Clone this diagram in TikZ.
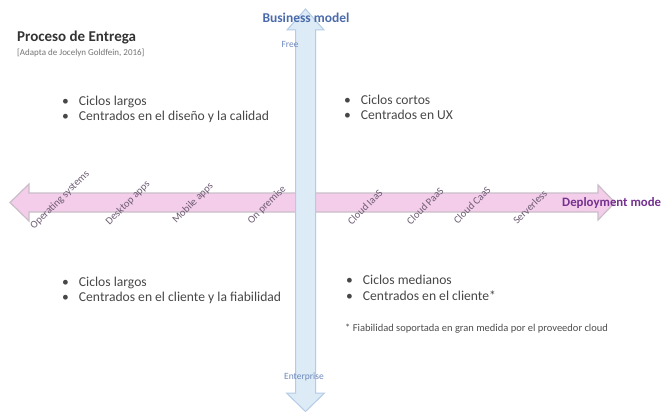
\documentclass[tikz,border=0pt]{standalone}
\usepackage{fontspec}
\setmainfont{Carlito}
\definecolor{bizblue}{HTML}{4A6BAA}
\definecolor{vaxisfill}{HTML}{DDEBF7}
\definecolor{vaxisline}{HTML}{B3CBE6}
\definecolor{haxisfill}{HTML}{F3CDEA}
\definecolor{haxisline}{HTML}{C9BEC8}
\definecolor{deppurple}{HTML}{74318F}
\definecolor{ticktext}{HTML}{6E5C74}

\tikzset{
  item/.style={anchor=base west, inner sep=0pt, text=black!72,
    font=\fontsize{13.6}{15}\selectfont},
  tick/.style={rotate=45, inner sep=0pt, text=ticktext,
    font=\fontsize{10.5}{12}\selectfont},
  pole/.style={inner sep=0pt, text=bizblue!80, font=\fontsize{9.5}{11}\selectfont}
}

\newcommand{\bul}{\textbullet\hspace{10pt}}

\begin{document}
\begin{tikzpicture}[x=1pt,y=-1pt]
\useasboundingbox (0,0) rectangle (661,412);

% horizontal axis: deployment model
\draw[haxisline, fill=haxisfill, line width=1.2pt]
  (10,202.5) -- (29,184) -- (29,193) -- (598,193) -- (598,185) -- (615,202.5)
  -- (598,220) -- (598,212) -- (29,212) -- (29,221) -- cycle;
% vertical axis: business model
\draw[vaxisline, fill=vaxisfill, line width=1pt]
  (305.5,9) -- (324,30) -- (315.5,30) -- (315.5,393) -- (324.5,393) -- (305.5,411.5)
  -- (286.5,393) -- (295.5,393) -- (295.5,30) -- (287,30) -- cycle;

\node[anchor=base west, inner sep=0pt, font=\fontsize{15}{18}\selectfont\bfseries, text=black!80]
  (title) at (17,42) {Proceso de Entrega};
\node[anchor=base west, inner sep=0pt, font=\fontsize{9}{10}\selectfont, text=black!55]
  (source) at (17,55.5) {[Adapta de Jocelyn Goldfein, 2016]};

\node[inner sep=0pt, font=\fontsize{13.5}{15}\selectfont\bfseries, text=bizblue]
  (business) at (306,18) {Business model};
\node[pole] (free) at (290,44.5) {Free};
\node[pole] (enterprise) at (304,376.5) {Enterprise};
\node[anchor=west, inner sep=0pt, font=\fontsize{12.8}{14}\selectfont\bfseries, text=deppurple]
  (deployment) at (562,203) {Deployment model};

% ticks on the deployment axis
\node[tick] (os)     at (60,200)  {Operating systems};
\node[tick] (desk)   at (128,203) {Desktop apps};
\node[tick] (mobile) at (193,203) {Mobile apps};
\node[tick] (onprem) at (267,205) {On premise};
\node[tick] (iaas)   at (365,207) {Cloud IaaS};
\node[tick] (paas)   at (425,206) {Cloud PaaS};
\node[tick] (caas)   at (472,205) {Cloud CaaS};
\node[tick] (serverless) at (530,207) {Serverless};

% quadrants
\node[item] (ul1) at (62,105) {\bul Ciclos largos};
\node[item] (ul2) at (62,120) {\bul Centrados en el diseño y la calidad};

\node[item] (ur1) at (344,104) {\bul Ciclos cortos};
\node[item] (ur2) at (344,119) {\bul Centrados en UX};

\node[item] (ll1) at (62,286) {\bul Ciclos largos};
\node[item] (ll2) at (62,301) {\bul Centrados en el cliente y la fiabilidad};

\node[item] (lr1) at (346,284.5) {\bul Ciclos medianos};
\node[item] (lr2) at (346,300.5) {\bul Centrados en el cliente*};
\node[anchor=base west, inner sep=0pt, font=\fontsize{10.5}{12}\selectfont, text=black!70]
  (note) at (345,331) {* Fiabilidad soportada en gran medida por el proveedor cloud};
\end{tikzpicture}
\end{document}
